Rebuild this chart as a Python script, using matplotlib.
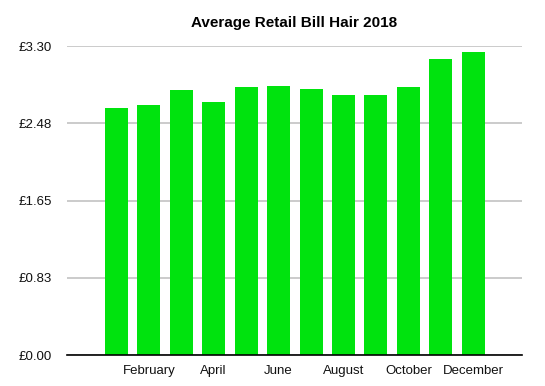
import numpy as np
import matplotlib
matplotlib.use('Agg')
import matplotlib.pyplot as plt

plt.rcParams['font.family'] = ['Liberation Sans', 'DejaVu Sans']

months = ['January', 'February', 'March', 'April', 'May', 'June', 'July',
          'August', 'September', 'October', 'November', 'December']
bill = [2.64, 2.67, 2.83, 2.70, 2.86, 2.87, 2.84, 2.78, 2.78, 2.86, 3.16, 3.24]
yticks = [0.0, 0.825, 1.65, 2.475, 3.30]
ytick_labels = ['£0.00', '£0.83', '£1.65', '£2.48', '£3.30']

fig = plt.figure(figsize=(5.45, 3.86), dpi=100)
ax = fig.add_axes([67/545, 31/386, 455/545, 309/386])

x = np.arange(len(months))
ax.bar(x, bill, width=0.71, color='#00e30e', zorder=3)

ax.set_xlim(-1.52, 12.5)
ax.set_ylim(0, 3.30)
ax.set_yticks(yticks)
ax.set_yticklabels(ytick_labels)
ax.set_xticks(x[1::2])
ax.set_xticklabels(months[1::2])

ax.grid(axis='y', color='#bdbdbd', linewidth=1.1, zorder=0)
ax.tick_params(axis='both', length=0, labelsize=9.5, colors='#111111')
ax.tick_params(axis='x', pad=7)
ax.tick_params(axis='y', pad=11)
for s in ['top', 'right', 'left']:
    ax.spines[s].set_visible(False)
ax.spines['bottom'].set_color('black')
ax.spines['bottom'].set_linewidth(1.2)
ax.spines['bottom'].set_zorder(4)

fig.suptitle('Average Retail Bill Hair 2018', x=(67+522)/2/545, y=1-23/386,
             va='center', fontsize=11, fontweight='bold')

fig.savefig('out.png', dpi=100)
